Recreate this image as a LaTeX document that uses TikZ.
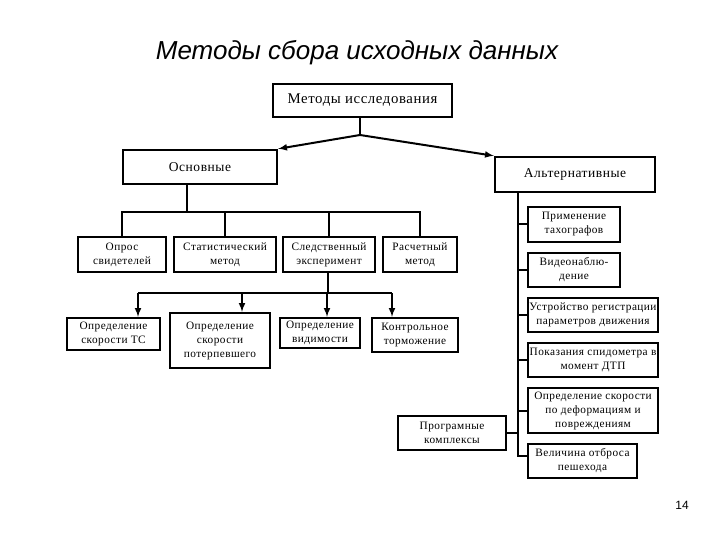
\documentclass[tikz,border=0pt]{standalone}
\usepackage{fontspec}
\setmainfont{Liberation Serif}[LetterSpace=4]
\newfontfamily\titlefont{Liberation Sans}
\usetikzlibrary{positioning}
\begin{document}
\begin{tikzpicture}[x=1pt,y=-1pt,>=latex,
	box/.style={draw=black,
		rectangle,
		line width=2.4pt,
		inner sep=1pt,
		align=center,
		font=\fontsize{11.3}{14}\selectfont},
	bigbox/.style={box,font=\fontsize{13.5}{15}\selectfont},
	link/.style={line width=2pt}]
	\useasboundingbox (0,0) rectangle (720,540);
	\node[font=\titlefont\itshape\fontsize{26}{30}\selectfont] (title) at (357,53) {Методы сбора исходных данных};
	\node[bigbox,font=\fontsize{14.8}{16}\selectfont,minimum width=179pt,minimum height=33pt] (root) at (362.5,100.5) {Методы исследования};
	\node[bigbox,minimum width=154pt,minimum height=34pt] (osn) at (200,167) {Основные};
	\node[bigbox,minimum width=160pt,minimum height=35pt] (alt) at (575,174.5) {Альтернативные};
	\node[box,minimum width=88pt,minimum height=35pt] (opros) at (122,254.5) {Опрос\\свидетелей};
	\node[box,minimum width=102pt,minimum height=35pt] (stat) at (225,254.5) {Статистический\\метод};
	\node[box,minimum width=92pt,minimum height=35pt] (sled) at (329,254.5) {Следственный\\эксперимент};
	\node[box,minimum width=74pt,minimum height=35pt] (rasch) at (420,254.5) {Расчетный\\метод};
	\node[box,minimum width=93pt,minimum height=32pt] (tc) at (113.5,334) {Определение\\скорости ТС};
	\node[box,minimum width=100pt,minimum height=55pt] (poterp) at (220,340.5) {Определение\\скорости\\потерпевшего};
	\node[box,minimum width=80pt,minimum height=30pt] (vid) at (320,333) {Определение\\видимости};
	\node[box,minimum width=86pt,minimum height=34pt] (kontr) at (415,335) {Контрольное\\торможение};
	\node[box,minimum width=92pt,minimum height=35pt] (tach) at (574,224.5) {Применение\\тахографов};
	\node[box,minimum width=92pt,minimum height=34pt] (video) at (574,270) {Видеонаблю-\\дение};
	\node[box,minimum width=130pt,minimum height=34pt] (ustr) at (593,315) {Устройство регистрации\\параметров движения};
	\node[box,minimum width=130pt,minimum height=34pt] (pokaz) at (593,360) {Показания спидометра в\\момент ДТП};
	\node[box,minimum width=130pt,minimum height=45pt] (deform) at (593,410.5) {Определение скорости\\по деформациям и\\повреждениям};
	\node[box,minimum width=109pt,minimum height=34pt] (velich) at (582.5,461) {Величина отброса\\пешехода};
	\node[box,minimum width=108pt,minimum height=34pt] (prog) at (452,433) {Програмные\\комплексы};
	\node[font=\titlefont\fontsize{12}{14}\selectfont] (page) at (682,505) {14};
	\coordinate (apex) at (360,135);
	\coordinate (osnbus) at (187,212);
	\coordinate (sledbus) at (328,293);
	\coordinate (rail) at (518,456);
	\coordinate (a1) at (138,293);
	\coordinate (a2) at (242,293);
	\coordinate (a3) at (327,293);
	\coordinate (a4) at (392,293);
	\draw[link] (root.south -| apex) -- (apex);
	\draw[link,->] (apex) -- (osn.north east);
	\draw[link,->] (apex) -- (alt.north west);
	\draw[link] (osn.south -| osnbus) -- (osnbus);
	\draw[link] (opros.north) |- (osnbus) -| (rasch.north);
	\draw[link] (osnbus -| stat.north) -- (stat.north);
	\draw[link] (osnbus -| sled.north) -- (sled.north);
	\draw[link] (sled.south -| sledbus) -- (sledbus);
	\draw[link] (a1) -- (a4);
	\draw[link,->] (a1) -- (a1 |- tc.north);
	\draw[link,->] (a2) -- (a2 |- poterp.north);
	\draw[link,->] (a3) -- (a3 |- vid.north);
	\draw[link,->] (a4) -- (a4 |- kontr.north);
	\draw[link] (alt.south -| rail) -- (rail) -- (rail -| velich.west);
	\draw[link] (rail |- tach.west) -- (tach.west);
	\draw[link] (rail |- video.west) -- (video.west);
	\draw[link] (rail |- ustr.west) -- (ustr.west);
	\draw[link] (rail |- pokaz.west) -- (pokaz.west);
	\draw[link] (rail |- deform.west) -- (deform.west);
	\draw[link] (prog.east) -- (prog.east -| rail);
\end{tikzpicture}
\end{document}
